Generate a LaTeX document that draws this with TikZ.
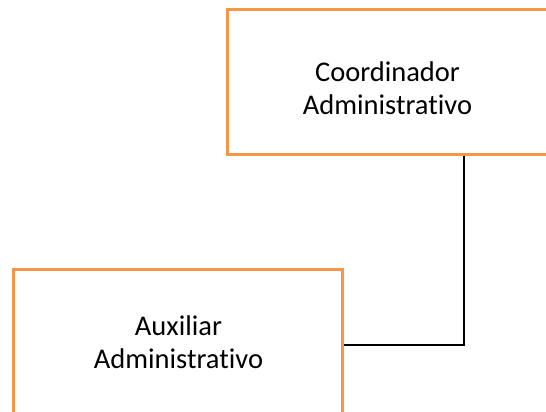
\documentclass[tikz,border=0pt]{standalone}
\usepackage{fontspec}
\setmainfont{Carlito}[Ligatures={NoCommon}]
\definecolor{boxorange}{HTML}{F79646}
\begin{document}
\begin{tikzpicture}[x=1pt,y=-1pt,
  orgbox/.style={draw=boxorange,line width=3pt,fill=white,minimum width=#1,minimum height=144pt,inner sep=0pt},
  boxtext/.style={align=center,inner sep=0pt,font=\fontsize{28.5}{33}\selectfont},
  link/.style={draw=black,line width=1.6pt}]
\useasboundingbox (0,0) rectangle (546,412);
\clip (0,0) rectangle (546,412);
\fill[white] (0,0) rectangle (546,412);
\node[orgbox=321pt] (coord) at (387.5,82) {};
\node[boxtext] (coordtext) at (387.5,88) {Coordinador\\Administrativo};
\node[orgbox=328.5pt] (aux) at (178,341) {};
\node[boxtext] (auxtext) at (178.5,342) {Auxiliar\\Administrativo};
\coordinate (drop) at (464,0);
\draw[link] (coord.south -| drop) |- ([yshift=-4pt]aux.east);
\end{tikzpicture}
\end{document}
